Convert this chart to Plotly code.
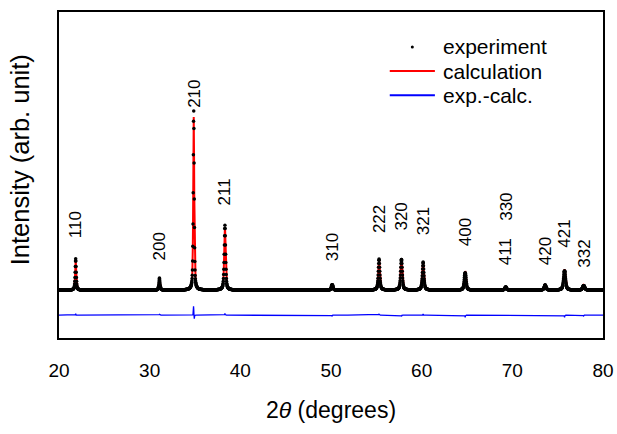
import numpy as np
import plotly.graph_objects as go

# Reflections of the cubic phase: position (deg 2theta), peak height above
# background (arb. unit), FWHM (deg)
hkl = ["110", "200", "210", "211", "310", "222", "320", "321", "400",
       "411", "330", "420", "421", "332"]
peak_pos = [21.84, 31.08, 34.86, 38.30, 50.13, 55.30, 57.77, 60.16, 64.80,
            69.27, 69.27, 73.62, 75.76, 77.87]
peak_height = [173, 64, 1000, 364, 35, 173, 185, 156, 110, 9, 9, 29, 121, 29]
peak_fwhm = [0.14, 0.15, 0.13, 0.18, 0.19, 0.20, 0.21, 0.21, 0.22,
             0.23, 0.23, 0.24, 0.25, 0.25]
peak_eta = 0.55

# Small misfit left between measurement and refinement at some reflections
resid_pos = [21.84, 31.08, 34.84, 34.92, 38.30, 50.13, 55.30, 57.77, 60.16,
             64.80, 75.76, 77.87]
resid_amp = [8, 5, 52, -22, 10, -5, 6, -8, 6, -12, -12, -5]
resid_fwhm = 0.06

# Vertical placement of the hkl labels (data units)
label_y = [289, 162, 1040, 480, 156, 318, 335, 306, 243, 133, 387, 133, 231, 116]

legend_names = ["experiment", "calculation", "exp.-calc."]

diff_offset = -145
step = 0.02
two_theta = np.arange(20.0, 80.0 + step / 2, step)


def pseudo_voigt(x, x0, w, eta):
    g = np.exp(-4 * np.log(2) * ((x - x0) / w) ** 2)
    lor = 1.0 / (1.0 + 4 * ((x - x0) / w) ** 2)
    return eta * lor + (1 - eta) * g


calc = np.zeros_like(two_theta)
for p, h, w in zip(peak_pos, peak_height, peak_fwhm):
    calc += h * pseudo_voigt(two_theta, p, w, peak_eta)

resid = np.zeros_like(two_theta)
for p, a in zip(resid_pos, resid_amp):
    resid += a * pseudo_voigt(two_theta, p, resid_fwhm, 0.3)

expt = calc + resid
diff = expt - calc + diff_offset

FONT = "Liberation Sans, Arial, sans-serif"
RED = "#ff0000"
BLUE = "#0000ff"

fig = go.Figure()
fig.add_trace(go.Scatter(
    x=two_theta, y=calc, mode="lines", name=legend_names[1],
    line=dict(color=RED, width=2)))
fig.add_trace(go.Scatter(
    x=two_theta, y=expt, mode="markers", name=legend_names[0],
    marker=dict(color="black", size=3.5)))
fig.add_trace(go.Scatter(
    x=two_theta, y=diff, mode="lines", name=legend_names[2],
    line=dict(color=BLUE, width=1.3)))

for t, x, y in zip(hkl, peak_pos, label_y):
    fig.add_annotation(x=x, y=y, xref="x", yref="y", text=t, textangle=-90,
                       showarrow=False, xanchor="center", yanchor="bottom",
                       font=dict(size=17, family=FONT, color="black"))

fig.add_annotation(x=0, y=0.545, xref="paper", yref="paper",
                   text="Intensity (arb. unit)", textangle=-90, showarrow=False,
                   xanchor="center", yanchor="middle", xshift=-39,
                   font=dict(size=25.5, family=FONT, color="black"))

# Compact legend in the upper right corner of the frame
leg_x_sym0, leg_x_sym1, leg_x_text = 0.608, 0.691, 0.704
leg_rows = [0.893, 0.819, 0.745]
fig.add_shape(type="circle", xref="paper", yref="paper",
              x0=(leg_x_sym0 + leg_x_sym1) / 2 - 0.0028,
              x1=(leg_x_sym0 + leg_x_sym1) / 2 + 0.0028,
              y0=leg_rows[0] - 0.0046, y1=leg_rows[0] + 0.0046,
              fillcolor="black", line=dict(width=0))
for row, col in zip(leg_rows[1:], [RED, BLUE]):
    fig.add_shape(type="line", xref="paper", yref="paper",
                  x0=leg_x_sym0, x1=leg_x_sym1, y0=row, y1=row,
                  line=dict(color=col, width=2))
for row, name in zip(leg_rows, legend_names):
    fig.add_annotation(x=leg_x_text, y=row, xref="paper", yref="paper",
                       text=name, showarrow=False, xanchor="left",
                       yanchor="middle", borderpad=0,
                       font=dict(size=21, family=FONT, color="black"))

fig.update_layout(
    width=617, height=434,
    margin=dict(l=59, r=14, t=12, b=96, autoexpand=False),
    paper_bgcolor="white", plot_bgcolor="white",
    font=dict(family=FONT, size=19, color="black"),
    showlegend=False,
    xaxis=dict(range=[20, 80], tickvals=[20, 30, 40, 50, 60, 70, 80],
               ticks="", showgrid=False, zeroline=False, automargin=False,
               showline=True, mirror=True, linecolor="black", linewidth=1.5,
               ticklabelstandoff=14,
               title=dict(text="2<i>θ</i> (degrees)", standoff=22)),
    yaxis=dict(range=[-277, 1607], showticklabels=False, ticks="",
               showgrid=False, zeroline=False, automargin=False,
               showline=True, mirror=True, linecolor="black", linewidth=1.5),
)

fig.write_html("out.html")
